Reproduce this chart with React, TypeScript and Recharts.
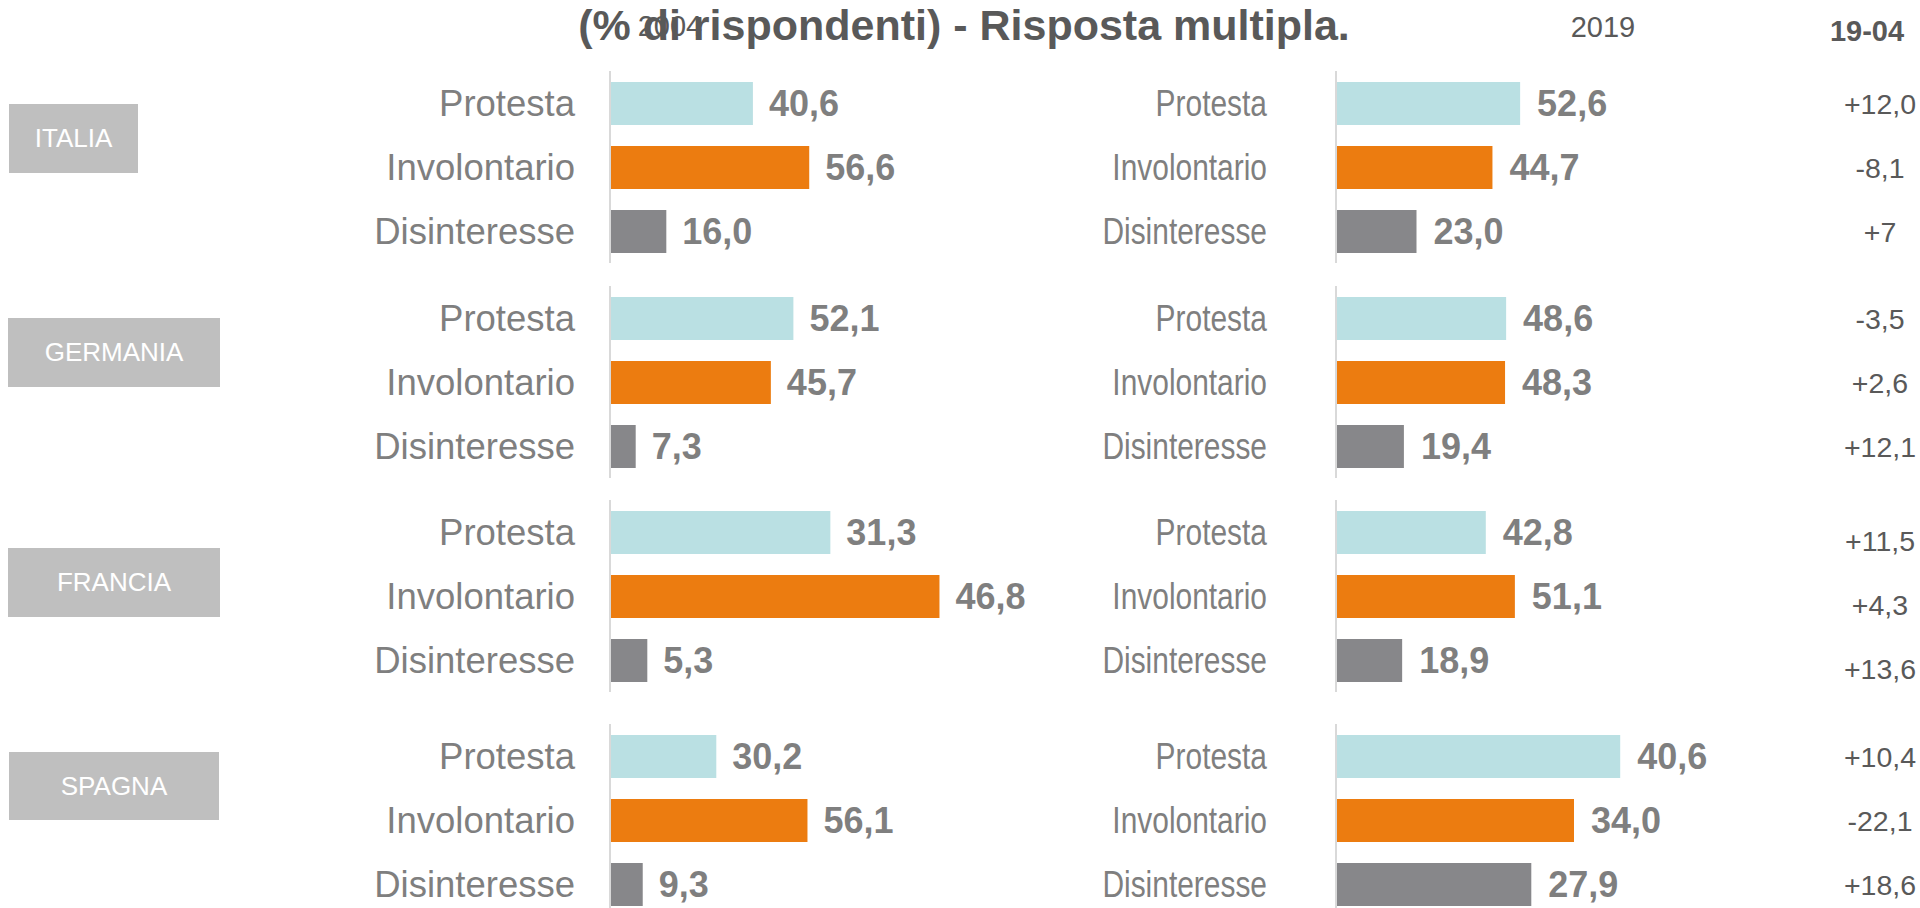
import { BarChart, Bar, XAxis, YAxis, Cell, LabelList } from 'recharts';

const CATEGORIES = ['Protesta', 'Involontario', 'Disinteresse'];
const COUNTRIES = ['ITALIA', 'GERMANIA', 'FRANCIA', 'SPAGNA'];
const YEARS = ['2004', '2019'];
const DELTA_HEADER = '19-04';

// one row per country, in CATEGORIES order
const VALUES_2004 = [
    [40.6, 56.6, 16.0],
    [52.1, 45.7, 7.3],
    [31.3, 46.8, 5.3],
    [30.2, 56.1, 9.3],
];
const VALUES_2019 = [
    [52.6, 44.7, 23.0],
    [48.6, 48.3, 19.4],
    [42.8, 51.1, 18.9],
    [40.6, 34.0, 27.9],
];
const DELTAS = [
    ['+12,0', '-8,1', '+7'],
    ['-3,5', '+2,6', '+12,1'],
    ['+11,5', '+4,3', '+13,6'],
    ['+10,4', '-22,1', '+18,6'],
];

// the original uses a halved scale on two of the panels
const AXIS_MAX_2004 = [100, 100, 50, 100];
const AXIS_MAX_2019 = [100, 100, 100, 50];

const COLORS = ['#BAE0E3', '#EC7C10', '#87878A'];
const TEXT_GRAY = '#7F7F7F';
const DARK_GRAY = '#595959';

// layout
const GROUP_TOP = [71, 286, 500, 724];
const BOXES = [
    { left: 9, top: 104, width: 129, height: 69 },
    { left: 8, top: 318, width: 212, height: 69 },
    { left: 8, top: 548, width: 212, height: 69 },
    { left: 9, top: 752, width: 210, height: 68 },
];
const DELTA_SHIFT = [0, 0, 8, 0];
const DELTA_X = 1880;

const LEFT_PANEL = { left: 250, axisWidth: 360, plot: 352, right: 250, tickGap: 35, labelGap: 16, squeeze: 1 };
const RIGHT_PANEL = { left: 936, axisWidth: 400, plot: 350, right: 234, tickGap: 69, labelGap: 17, squeeze: 0.82 };

const fmt = (v: number) => v.toFixed(1).replace('.', ',');

interface PanelProps {
    values: number[];
    max: number;
    top: number;
    cfg: typeof LEFT_PANEL;
    deltas?: string[];
    deltaShift?: number;
}

function Panel({ values, max, top, cfg, deltas, deltaShift = 0 }: PanelProps) {
    const data = CATEGORIES.map((cat, i) => ({
        cat,
        value: values[i],
        delta: deltas ? deltas[i] : '',
    }));
    const width = cfg.axisWidth + cfg.plot + cfg.right;

    const CategoryTick = (props: any) => {
        const { x, y, payload } = props;
        return (
            <g transform={`translate(${x},${y}) scale(${cfg.squeeze},1)`}>
                <text x={0} y={0} dy="0.355em" textAnchor="end" fill={TEXT_GRAY} fontSize={36.5}>
                    {payload.value}
                </text>
            </g>
        );
    };

    const DeltaLabel = (props: any) => {
        const vb = props.viewBox || props;
        const y = vb.y + vb.height / 2 + deltaShift;
        return (
            <text
                x={DELTA_X - cfg.left}
                y={y}
                textAnchor="middle"
                dominantBaseline="central"
                fill={DARK_GRAY}
                fontSize={28.5}
            >
                {props.value}
            </text>
        );
    };

    return (
        <div style={{ position: 'absolute', left: cfg.left, top }}>
            <BarChart
                width={width}
                height={192}
                layout="vertical"
                data={data}
                margin={{ top: 0, right: cfg.right, bottom: 0, left: 0 }}
            >
                <XAxis type="number" domain={[0, max]} hide />
                <YAxis
                    type="category"
                    dataKey="cat"
                    width={cfg.axisWidth}
                    tickLine={false}
                    tickSize={0}
                    tickMargin={cfg.tickGap}
                    axisLine={{ stroke: '#D9D9D9', strokeWidth: 2 }}
                    tick={<CategoryTick />}
                    interval={0}
                />
                <Bar dataKey="value" barSize={43} isAnimationActive={false}>
                    {data.map((_, i) => (
                        <Cell key={`cell-${i}`} fill={COLORS[i]} />
                    ))}
                    <LabelList
                        dataKey="value"
                        position="right"
                        offset={cfg.labelGap}
                        formatter={(v: any) => fmt(Number(v))}
                        fill={TEXT_GRAY}
                        fontSize={36}
                        fontWeight="bold"
                    />
                    {deltas && <LabelList dataKey="delta" content={DeltaLabel} />}
                </Bar>
            </BarChart>
        </div>
    );
}

export default function App() {
    return (
        <div
            style={{
                position: 'absolute',
                left: 0,
                top: 0,
                width: 1920,
                height: 908,
                overflow: 'hidden',
                background: '#fff',
                fontFamily: '"Liberation Sans", Arial, sans-serif',
            }}
        >
            <div style={{ position: 'absolute', left: 570, width: 200, top: 12, fontSize: 29, lineHeight: '29px', color: DARK_GRAY, textAlign: 'center' }}>
                {YEARS[0]}
            </div>
            <div style={{ position: 'absolute', left: 1503, width: 200, top: 13, fontSize: 29, lineHeight: '29px', color: DARK_GRAY, textAlign: 'center' }}>
                {YEARS[1]}
            </div>
            <div style={{ position: 'absolute', left: 1767, width: 200, top: 17, fontSize: 29, lineHeight: '29px', color: DARK_GRAY, fontWeight: 'bold', textAlign: 'center' }}>
                {DELTA_HEADER}
            </div>
            <div style={{ position: 'absolute', left: 464, width: 1000, top: 4, fontSize: 43, lineHeight: '43px', color: DARK_GRAY, fontWeight: 'bold', textAlign: 'center' }}>
                (% di rispondenti) - Risposta multipla.
            </div>

            {COUNTRIES.map((c, i) => (
                <div
                    key={c}
                    style={{
                        position: 'absolute',
                        ...BOXES[i],
                        background: '#BFBFBF',
                        color: '#fff',
                        fontSize: 26,
                        display: 'flex',
                        alignItems: 'center',
                        justifyContent: 'center',
                    }}
                >
                    {c}
                </div>
            ))}

            {COUNTRIES.map((c, i) => (
                <Panel
                    key={`l-${c}`}
                    values={VALUES_2004[i]}
                    max={AXIS_MAX_2004[i]}
                    top={GROUP_TOP[i]}
                    cfg={LEFT_PANEL}
                />
            ))}
            {COUNTRIES.map((c, i) => (
                <Panel
                    key={`r-${c}`}
                    values={VALUES_2019[i]}
                    max={AXIS_MAX_2019[i]}
                    top={GROUP_TOP[i]}
                    cfg={RIGHT_PANEL}
                    deltas={DELTAS[i]}
                    deltaShift={DELTA_SHIFT[i]}
                />
            ))}
        </div>
    );
}
